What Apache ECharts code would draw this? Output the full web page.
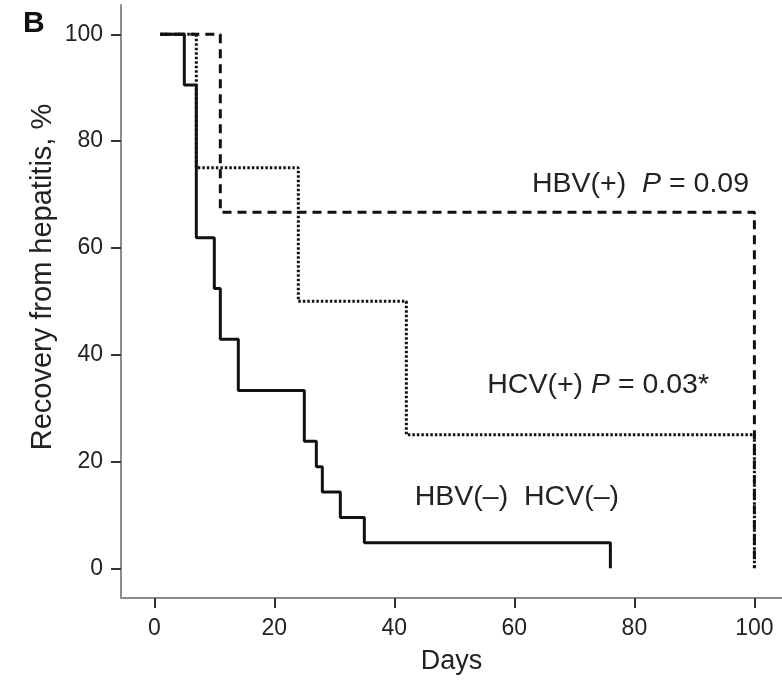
<!DOCTYPE html>
<html>
<head>
<meta charset="utf-8">
<script src="https://cdn.jsdelivr.net/npm/echarts@6/dist/echarts.min.js"></script>
<style>
html,body{margin:0;padding:0;background:#fff;}
#chart{width:782px;height:681px;}
</style>
</head>
<body>
<div id="chart"></div>
<script>
// Kaplan-Meier step data: day of change, recovery % after that day
var hbvNegDays = [1, 5, 7, 10, 11, 14, 25, 27, 28, 31, 35, 76];
var hbvNegSurv = [100, 90.5, 61.9, 52.4, 42.9, 33.3, 23.8, 19.0, 14.3, 9.5, 4.8, 0];
var hbvPosDays = [1, 11, 100];
var hbvPosSurv = [100, 66.7, 0];
var hcvPosDays = [1, 7, 24, 42, 100];
var hcvPosSurv = [100, 75, 50, 25, 0];
var xTicks = [0, 20, 40, 60, 80, 100];
var yTicks = [0, 20, 40, 60, 80, 100];
var xTitle = 'Days';
var yTitle = 'Recovery from hepatitis, %';
var panelLetter = 'B';

function pairs(xs, ys) { return xs.map(function (x, i) { return [x, ys[i]]; }); }

var FONT = '"Liberation Sans", Arial, Helvetica, sans-serif';
var TXT = '#222';
var AF = 28.5;

var chart = echarts.init(document.getElementById('chart'));
chart.setOption({
  animation: false,
  backgroundColor: '#fff',
  grid: { left: 121, right: 0, top: 5, bottom: 83, containLabel: false },
  xAxis: {
    type: 'value', min: -5.55, max: 104.6,
    splitLine: { show: false },
    axisLine: { show: true, onZero: false, lineStyle: { color: '#8c8c8c', width: 2 } },
    axisTick: { show: true, customValues: xTicks, length: 10, lineStyle: { color: '#333', width: 2 } },
    axisLabel: { customValues: xTicks, margin: 19, fontSize: 23, color: TXT, fontFamily: FONT },
    name: xTitle, nameLocation: 'middle', nameGap: 50,
    nameTextStyle: { fontSize: 27, color: TXT, fontFamily: FONT }
  },
  yAxis: {
    type: 'value', min: -5.56, max: 105.5,
    splitLine: { show: false },
    axisLine: { show: true, onZero: false, lineStyle: { color: '#8c8c8c', width: 2 } },
    axisTick: { show: true, customValues: yTicks, length: 10, lineStyle: { color: '#333', width: 2 } },
    axisLabel: { customValues: yTicks, margin: 18, fontSize: 23, color: TXT, fontFamily: FONT }
  },
  series: [
    {
      type: 'line', step: 'end', symbol: 'none', z: 3,
      data: pairs(hcvPosDays, hcvPosSurv),
      lineStyle: { color: '#111', width: 3, type: [2.5, 2] }
    },
    {
      type: 'line', step: 'end', symbol: 'none', z: 2,
      data: pairs(hbvPosDays, hbvPosSurv),
      lineStyle: { color: '#111', width: 3, type: [9, 6] }
    },
    {
      type: 'line', step: 'end', symbol: 'none', z: 4,
      data: pairs(hbvNegDays, hbvNegSurv),
      lineStyle: { color: '#111', width: 3, type: 'solid' }
    }
  ],
  graphic: [
    { type: 'text', left: 23, top: 9, style: { text: panelLetter, font: 'bold 30px ' + FONT, fill: '#111' } },
    { type: 'text', x: 43, y: 277, rotation: Math.PI / 2,
      style: { text: yTitle, font: '29px ' + FONT, fill: TXT, align: 'center', verticalAlign: 'middle' } },
    { type: 'text', x: 749, y: 184,
      style: { text: '{n|HBV(+)  }{i|P}{n| = 0.09}', align: 'right', verticalAlign: 'middle',
        rich: { n: { font: AF + 'px ' + FONT, fill: TXT }, i: { font: 'italic ' + AF + 'px ' + FONT, fill: TXT } } } },
    { type: 'text', x: 709, y: 385,
      style: { text: '{n|HCV(+) }{i|P}{n| = 0.03*}', align: 'right', verticalAlign: 'middle',
        rich: { n: { font: AF + 'px ' + FONT, fill: TXT }, i: { font: 'italic ' + AF + 'px ' + FONT, fill: TXT } } } },
    { type: 'text', x: 619, y: 497,
      style: { text: 'HBV(\u2013)  HCV(\u2013)', font: AF + 'px ' + FONT, fill: TXT, align: 'right', verticalAlign: 'middle' } }
  ]
});
</script>
</body>
</html>
